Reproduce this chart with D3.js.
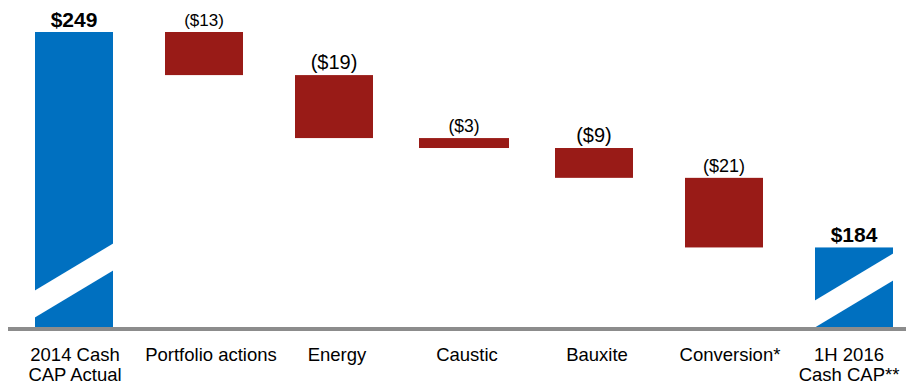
<!DOCTYPE html>
<html>
<head>
<meta charset="utf-8">
<script src="https://cdn.jsdelivr.net/npm/d3@7"></script>
<style>
  body { margin: 0; background: #fff; }
  svg { display: block; font-family: "Liberation Sans", Arial, sans-serif; }
</style>
</head>
<body>
<div id="chart"></div>
<script>
// chart data
const categories = ["2014 Cash|CAP Actual", "Portfolio actions", "Energy", "Caustic", "Bauxite", "Conversion*", "1H 2016|Cash CAP**"];
const kinds = ["total", "delta", "delta", "delta", "delta", "delta", "total"];
const values = [249, -13, -19, -3, -9, -21, 184];
const valueLabels = ["$249", "($13)", "($19)", "($3)", "($9)", "($21)", "$184"];

// styling tweaks to mimic the source slide (mixed label sizes, nudged text boxes)
const labelSizes = [21, 17, 20, 17.5, 20, 18, 21];
const catShift = [1, 7, 3, 3, 3, 6, -5];
const barExtra = [0, 0, 0, 6, 0, 0, 0];

const width = 909, height = 385;
const baseY = 327;

const svg = d3.select("#chart").append("svg")
  .attr("width", width)
  .attr("height", height);

const x = d3.scaleBand()
  .domain(categories)
  .range([9, 919])
  .paddingInner(0.4)
  .paddingOuter(0.2);

// broken value axis: starts at 160, not zero
const y = d3.scaleLinear()
  .domain([160, 249])
  .range([baseY, 32]);

// running totals for the waterfall
let running = 0;
const bars = categories.map((c, i) => {
  let lo, hi;
  if (kinds[i] === "total") {
    lo = 160; hi = values[i]; running = values[i];
  } else {
    hi = running; lo = running + values[i]; running = lo;
  }
  return { cat: c, kind: kinds[i], lo, hi, label: valueLabels[i], size: labelSizes[i], i };
});

svg.selectAll(".bar")
  .data(bars)
  .enter()
  .append("rect")
  .attr("class", "bar")
  .attr("x", d => x(d.cat) - barExtra[d.i])
  .attr("width", d => x.bandwidth() + 2 * barExtra[d.i])
  .attr("y", d => y(d.hi))
  .attr("height", d => y(d.lo) - y(d.hi))
  .attr("fill", d => d.kind === "total" ? "#0070C0" : "#991B17");

// white slash marking the axis break on total bars
const lift = { 0: 9, 6: -1 };
svg.selectAll(".slash")
  .data(bars.filter(d => d.kind === "total"))
  .enter()
  .append("path")
  .attr("class", "slash")
  .attr("fill", "#fff")
  .attr("d", d => {
    const x0 = x(d.cat) - 1, x1 = x(d.cat) + x.bandwidth() + 1;
    const l = lift[d.i];
    const yl = baseY - l, yr = baseY - l - 48;
    return `M${x0},${yl - 27}L${x1},${yr - 27}L${x1},${yr}L${x0},${yl}Z`;
  });

// value labels
svg.selectAll(".val")
  .data(bars)
  .enter()
  .append("text")
  .attr("class", "val")
  .attr("x", d => x(d.cat) + x.bandwidth() / 2)
  .attr("y", d => y(d.hi) - (d.kind === "total" ? 5 : 6))
  .attr("text-anchor", "middle")
  .attr("font-size", d => d.size + "px")
  .attr("font-weight", d => d.kind === "total" ? "bold" : "normal")
  .attr("fill", "#000")
  .text(d => d.label);

// category axis
const axis = svg.append("g")
  .attr("transform", `translate(0,${baseY})`)
  .call(d3.axisBottom(x).tickSize(0).tickFormat(""));
axis.select(".domain").remove();

axis.selectAll(".tick").append("text")
  .attr("fill", "#000")
  .attr("font-size", "18.5px")
  .attr("text-anchor", "middle")
  .attr("transform", (d, i) => `translate(${catShift[i]},0)`)
  .selectAll("tspan")
  .data(d => d.split("|"))
  .enter()
  .append("tspan")
  .attr("x", 0)
  .attr("y", (d, i) => 34 + i * 20)
  .text(d => d);

// baseline
svg.append("line")
  .attr("x1", 8)
  .attr("x2", 906)
  .attr("y1", baseY + 2)
  .attr("y2", baseY + 2)
  .attr("stroke", "#8c8c8c")
  .attr("stroke-width", 4);
</script>
</body>
</html>
